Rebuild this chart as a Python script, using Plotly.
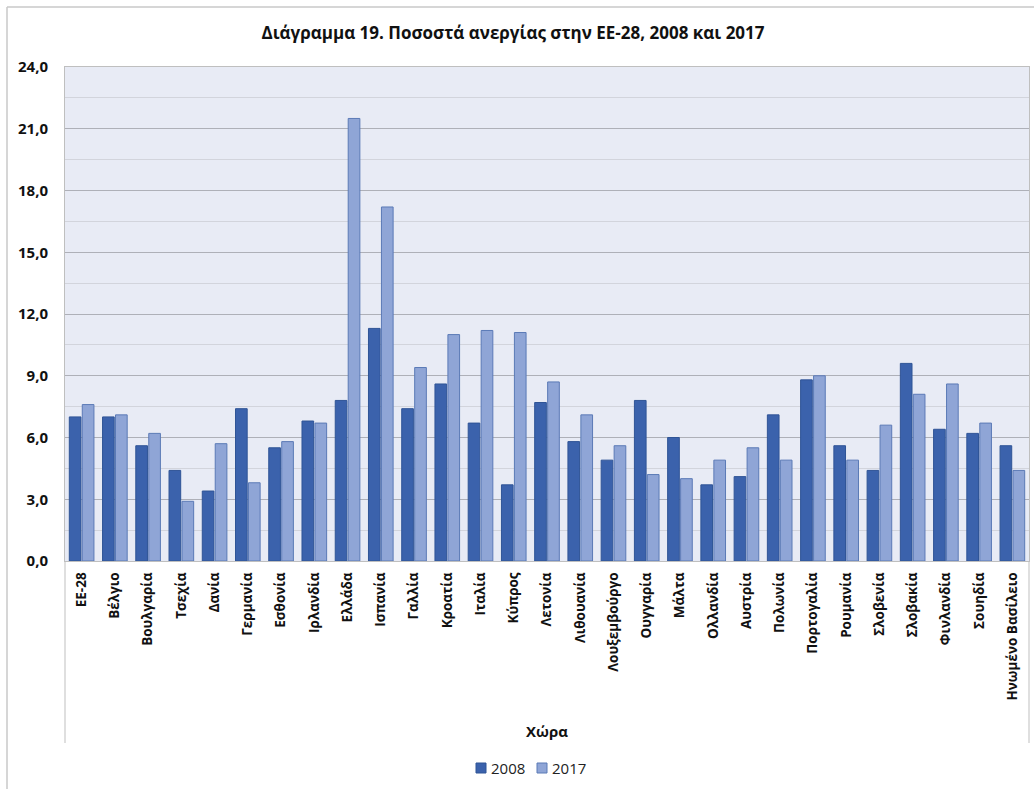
import plotly.graph_objects as go

# Unemployment rate (%) per EU-28 member state, 2008 and 2017
countries = [
    "ΕΕ-28", "Βέλγιο", "Βουλγαρία", "Τσεχία", "Δανία", "Γερμανία", "Εσθονία",
    "Ιρλανδία", "Ελλάδα", "Ισπανία", "Γαλλία", "Κροατία", "Ιταλία", "Κύπρος",
    "Λετονία", "Λιθουανία", "Λουξεμβούργο", "Ουγγαρία", "Μάλτα", "Ολλανδία",
    "Αυστρία", "Πολωνία", "Πορτογαλία", "Ρουμανία", "Σλοβενία", "Σλοβακία",
    "Φινλανδία", "Σουηδία", "Ηνωμένο Βασίλειο",
]
rate_2008 = [
    7.0, 7.0, 5.6, 4.4, 3.4, 7.4, 5.5, 6.8, 7.8, 11.3, 7.4, 8.6, 6.7, 3.7,
    7.7, 5.8, 4.9, 7.8, 6.0, 3.7, 4.1, 7.1, 8.8, 5.6, 4.4, 9.6, 6.4, 6.2, 5.6,
]
rate_2017 = [
    7.6, 7.1, 6.2, 2.9, 5.7, 3.8, 5.8, 6.7, 21.5, 17.2, 9.4, 11.0, 11.2, 11.1,
    8.7, 7.1, 5.6, 4.2, 4.0, 4.9, 5.5, 4.9, 9.0, 4.9, 6.6, 8.1, 8.6, 6.7, 4.4,
]
series_names = ["2008", "2017"]

W, H = 1034, 789
ML, MR, MT, MB = 65, 5, 67, 228
PW, PH = W - ML - MR, H - MT - MB

FONT = "Open Sans"
GRID_MAJOR = "#AEB0B8"
GRID_MINOR = "#D2D4DC"
FRAME = "#BFBFBF"
FILLS = ["#3B62AC", "#8FA5D6"]
EDGES = ["#2F5496", "#5B7AB6"]


def px_x(x):
    return (x - ML) / PW


def px_y(y):
    return (H - MB - y) / PH


fig = go.Figure()
for name, vals, fill, edge in zip(series_names, [rate_2008, rate_2017], FILLS, EDGES):
    fig.add_trace(go.Bar(
        name=name, x=countries, y=vals,
        marker=dict(color=fill, line=dict(color=edge, width=1)),
    ))

fig.update_layout(
    width=W, height=H,
    margin=dict(l=ML, r=MR, t=MT, b=MB, autoexpand=False),
    paper_bgcolor="white",
    plot_bgcolor="#E8EBF5",
    separators=",.",
    barmode="group",
    bargap=0.22,
    bargroupgap=0.1,
    font=dict(family=FONT, color="#111111"),
    title=dict(
        text="<b>Διάγραμμα 19. Ποσοστά ανεργίας στην ΕΕ-28, 2008 και 2017</b>",
        x=px_x(513), xanchor="center", xref="paper",
        y=1 - 33 / H, yanchor="middle",
        font=dict(family=FONT, size=17, color="#111111"),
    ),
    showlegend=False,
    xaxis=dict(
        tickangle=-90,
        tickfont=dict(family=FONT, size=13.5, color="#111111", weight="bold"),
        showline=True, linecolor=FRAME, mirror=True,
        showgrid=False, ticks="", ticklabelstandoff=5,
    ),
    yaxis=dict(
        range=[0, 24], dtick=3, tick0=0, tickformat=".1f",
        tickfont=dict(family=FONT, size=15, color="#111111", weight="bold"),
        showgrid=True, gridcolor=GRID_MAJOR, gridwidth=1,
        minor=dict(dtick=1.5, showgrid=True, gridcolor=GRID_MINOR, gridwidth=1),
        showline=True, linecolor=FRAME, mirror=True,
        zeroline=False, ticks="", ticklabelstandoff=13,
    ),
)

# Axis title for the categories
fig.add_annotation(
    text="<b>Χώρα</b>", x=0.5, y=px_y(731), xref="paper", yref="paper",
    showarrow=False, xanchor="center", yanchor="middle",
    font=dict(family=FONT, size=15, color="#111111"),
)

# Outer chart frame and the category-label box sides
shapes = [
    dict(type="line", xref="paper", yref="paper",
         x0=px_x(7), x1=px_x(W + 5), y0=px_y(7), y1=px_y(7),
         line=dict(color="#C8C8C8", width=1.5)),
    dict(type="line", xref="paper", yref="paper",
         x0=px_x(7), x1=px_x(7), y0=px_y(7), y1=px_y(H + 5),
         line=dict(color="#C8C8C8", width=1.5)),
    dict(type="line", xref="paper", yref="paper",
         x0=0, x1=0, y0=0, y1=px_y(743),
         line=dict(color=FRAME, width=1)),
    dict(type="line", xref="paper", yref="paper",
         x0=1, x1=1, y0=0, y1=px_y(743),
         line=dict(color=FRAME, width=1)),
]

# Compact legend: small square swatch followed by the series name
legend_x = [476, 537]
for name, fill, edge, lx in zip(series_names, FILLS, EDGES, legend_x):
    shapes.append(dict(
        type="rect", xref="paper", yref="paper",
        x0=px_x(lx), x1=px_x(lx + 10), y0=px_y(773), y1=px_y(763),
        fillcolor=fill, line=dict(color=edge, width=1),
    ))
    fig.add_annotation(
        text=name, x=px_x(lx + 13), y=px_y(768), xref="paper", yref="paper",
        showarrow=False, xanchor="left", yanchor="middle",
        font=dict(family=FONT, size=15, color="#222222"),
    )
fig.update_layout(shapes=shapes)

fig.write_html("out.html")
